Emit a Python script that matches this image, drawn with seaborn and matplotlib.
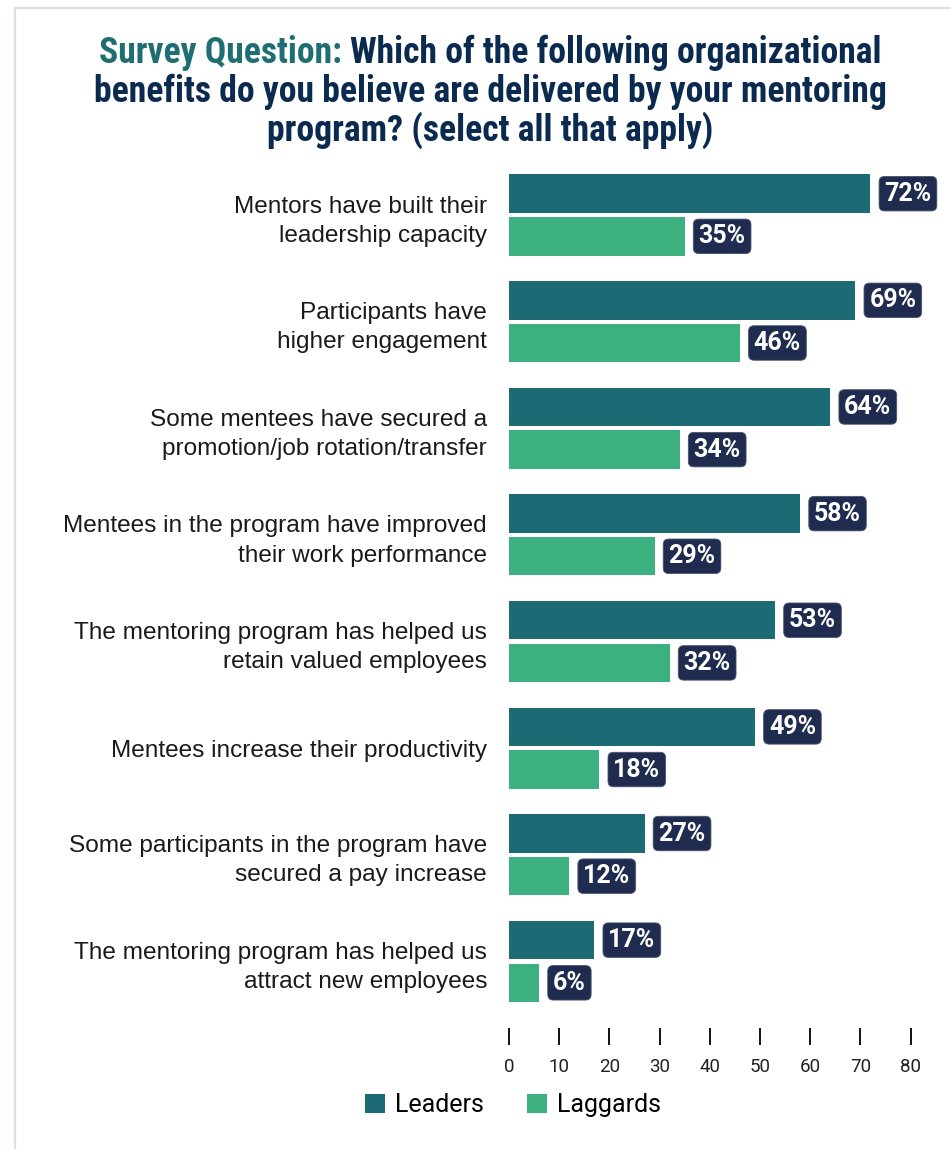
import matplotlib
matplotlib.use("Agg")
import matplotlib.pyplot as plt
import seaborn as sns
import pandas as pd
from matplotlib import font_manager as fm
from matplotlib.patches import Patch
from matplotlib.lines import Line2D

# ---------------- data ----------------
categories = [
    "Mentors have built their\nleadership capacity",
    "Participants have\nhigher engagement",
    "Some mentees have secured a\npromotion/job rotation/transfer",
    "Mentees in the program have improved\ntheir work performance",
    "The mentoring program has helped us\nretain valued employees",
    "Mentees increase their productivity",
    "Some participants in the program have\nsecured a pay increase",
    "The mentoring program has helped us\nattract new employees",
]
leaders = [72, 69, 64, 58, 53, 49, 27, 17]
laggards = [35, 46, 34, 29, 32, 18, 12, 6]
series_names = ["Leaders", "Laggards"]
x_ticks = [0, 10, 20, 30, 40, 50, 60, 70, 80]
title_lead = "Survey Question:"
title_lines = [
    "Which of the following organizational",
    "benefits do you believe are delivered by your mentoring",
    "program? (select all that apply)",
]

# ---------------- style ----------------
W, H = 951, 1149
LEADER_C = "#1c6a74"
LAGGARD_C = "#3db080"
LABEL_BOX = "#1f2b4f"
TEAL = "#1f6e73"
NAVY = "#0b2a50"

plt.rcParams["font.family"] = ["Roboto", "DejaVu Sans"]


def has_font(family, stretch="normal"):
    try:
        fm.findfont(fm.FontProperties(family=family, weight="bold", stretch=stretch),
                    fallback_to_default=False)
        return True
    except Exception:
        return False


fig = plt.figure(figsize=(W / 100, H / 100), dpi=100)
fig.patch.set_facecolor("white")

# card border (top + left)
fig.add_artist(Line2D([15 / W, 15 / W], [0, 1 - 8 / H], transform=fig.transFigure,
                      color="#e3dcdc", lw=1.6))
fig.add_artist(Line2D([15 / W, 1], [1 - 8 / H, 1 - 8 / H], transform=fig.transFigure,
                      color="#e3dcdc", lw=1.6))

ax = fig.add_axes([509 / W, 1 - 1014.8 / H, 401.6 / W, 853.1 / H])

df = pd.DataFrame({
    "category": categories * 2,
    "value": leaders + laggards,
    "group": [series_names[0]] * len(categories) + [series_names[1]] * len(categories),
})

sns.barplot(data=df, x="value", y="category", hue="group", hue_order=series_names,
            palette=[LEADER_C, LAGGARD_C], orient="h", width=0.8, gap=0.1,
            saturation=1, errorbar=None, legend=False, ax=ax)

ax.set_xlim(0, 80)
ax.set_ylim(len(categories) - 0.5, -0.5)
ax.set_xlabel("")
ax.set_ylabel("")
ax.set_facecolor("none")
for s in ax.spines.values():
    s.set_visible(False)
ax.spines["bottom"].set_position(("outward", 9.4))
ax.set_xticks(x_ticks)
ax.set_xticklabels([str(t) for t in x_ticks])
ax.tick_params(axis="x", bottom=True, direction="out", length=12.2, width=1.4,
               color="#111111", pad=9.5, labelsize=13.5, labelcolor="#222222")
ax.tick_params(axis="y", left=False, length=0, pad=15.8)
for lab in ax.get_yticklabels():
    lab.set_fontfamily(["Liberation Sans", "DejaVu Sans"])
    lab.set_fontsize(17.6)
    lab.set_color("#1a1a1a")
    lab.set_linespacing(1.42)

# value labels
for cont, vals in zip(ax.containers, [leaders, laggards]):
    ax.bar_label(cont, labels=[f"{v}%" for v in vals], padding=10,
                 color="white", fontsize=18, fontweight="bold",
                 fontfamily=["Roboto", "DejaVu Sans"],
                 bbox=dict(boxstyle="round,pad=0.21,rounding_size=0.22",
                           fc=LABEL_BOX, ec="#4a5470", lw=0.6))

# legend
handles = [Patch(facecolor=c, edgecolor="none", label=n)
           for c, n in zip([LEADER_C, LAGGARD_C], series_names)]
fig.legend(handles=handles, loc="center", bbox_to_anchor=(513 / W, 1 - 1105 / H),
           ncol=2, frameon=False, prop=dict(family=["Roboto", "DejaVu Sans"], size=18),
           handlelength=0.8, handleheight=0.8, handletextpad=0.4,
           columnspacing=1.75, borderaxespad=0, borderpad=0)

# ---------------- title ----------------
fig.canvas.draw()
r = fig.canvas.get_renderer()

title_prop = None
for fam, stretch in [("Roboto Condensed", "normal"), ("Liberation Sans Narrow", "normal"),
                     ("DejaVu Sans", "condensed"), ("Roboto", "normal")]:
    if has_font(fam, stretch):
        title_prop = dict(fontfamily=fam, fontstretch=stretch, fontweight="bold")
        break
if title_prop is None:
    title_prop = dict(fontweight="bold")


def tw(s, size):
    t = fig.text(0, 0, s, fontsize=size, **title_prop)
    w = t.get_window_extent(r).width
    t.remove()
    return w


base = 22.3
size = base * 793 / tw(title_lines[1], base)
size = min(size, 26.5)
cx = 490
baselines = [63, 102, 141]

w1 = tw(title_lead, size)
ws = tw("a a", size) - tw("aa", size)
w2 = tw(title_lines[0], size)
x0 = cx - (w1 + ws + w2) / 2
fig.text(x0 / W, 1 - baselines[0] / H, title_lead, color=TEAL, fontsize=size,
         ha="left", va="baseline", **title_prop)
fig.text((x0 + w1 + ws) / W, 1 - baselines[0] / H, title_lines[0], color=NAVY,
         fontsize=size, ha="left", va="baseline", **title_prop)
for line, yb in zip(title_lines[1:], baselines[1:]):
    fig.text(cx / W, 1 - yb / H, line, color=NAVY, fontsize=size,
             ha="center", va="baseline", **title_prop)

fig.savefig("out.png", dpi=100, facecolor="white")
